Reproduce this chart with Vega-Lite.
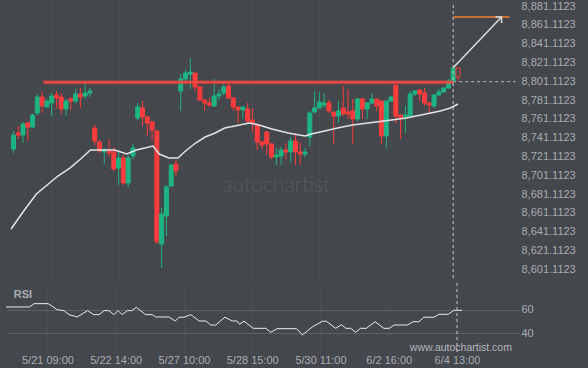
{
  "$schema": "https://vega.github.io/schema/vega-lite/v6.json",
  "background": "#44474c",
  "padding": {"left": 4, "top": 0, "right": 15, "bottom": 6},
  "spacing": 0,
  "config": {
    "view": {"stroke": null},
    "font": "Liberation Sans",
    "axis": {"labelColor": "#a9adb2", "labelFontSize": 11, "labelFont": "Liberation Sans", "ticks": false, "domain": false, "title": null, "labelOverlap": false, "labelFlush": false, "labelBound": false}
  },
  "resolve": {"scale": {"x": "independent", "y": "independent"}},
  "datasets": {
    "candles": [
      {"i":0,"o":8729.0,"c":8743.9,"h":8748.2,"l":8724.8,"d":"up"},
      {"i":1,"o":8746.1,"c":8743.9,"h":8753.5,"l":8739.7,"d":"down"},
      {"i":2,"o":8743.9,"c":8755.6,"h":8757.8,"l":8735.4,"d":"up"},
      {"i":3,"o":8756.7,"c":8752.4,"h":8757.8,"l":8737.6,"d":"down"},
      {"i":4,"o":8752.4,"c":8765.2,"h":8766.3,"l":8751.4,"d":"up"},
      {"i":5,"o":8767.3,"c":8784.3,"h":8787.5,"l":8765.2,"d":"up"},
      {"i":6,"o":8784.3,"c":8774.8,"h":8790.7,"l":8767.3,"d":"down"},
      {"i":7,"o":8773.7,"c":8780.1,"h":8782.2,"l":8772.7,"d":"up"},
      {"i":8,"o":8778.0,"c":8785.4,"h":8788.6,"l":8764.1,"d":"up"},
      {"i":9,"o":8786.5,"c":8783.3,"h":8790.7,"l":8772.7,"d":"down"},
      {"i":10,"o":8784.3,"c":8771.6,"h":8788.6,"l":8766.3,"d":"down"},
      {"i":11,"o":8771.6,"c":8780.1,"h":8782.2,"l":8764.1,"d":"up"},
      {"i":12,"o":8782.2,"c":8780.1,"h":8784.3,"l":8770.5,"d":"down"},
      {"i":13,"o":8780.1,"c":8787.5,"h":8792.9,"l":8778.0,"d":"up"},
      {"i":14,"o":8787.5,"c":8784.3,"h":8793.9,"l":8772.7,"d":"down"},
      {"i":15,"o":8785.4,"c":8788.6,"h":8799.2,"l":8782.2,"d":"up"},
      {"i":16,"o":8788.6,"c":8790.7,"h":8793.9,"l":8784.3,"d":"up"},
      {"i":17,"o":8751.4,"c":8737.6,"h":8754.6,"l":8733.3,"d":"down"},
      {"i":18,"o":8736.5,"c":8726.9,"h":8738.6,"l":8724.8,"d":"down"},
      {"i":19,"o":8725.9,"c":8728.0,"h":8730.1,"l":8713.1,"d":"up"},
      {"i":20,"o":8726.9,"c":8724.8,"h":8739.7,"l":8720.5,"d":"down"},
      {"i":21,"o":8725.9,"c":8707.8,"h":8731.2,"l":8705.7,"d":"down"},
      {"i":22,"o":8708.8,"c":8719.5,"h":8726.9,"l":8690.8,"d":"up"},
      {"i":23,"o":8719.5,"c":8692.9,"h":8722.7,"l":8690.8,"d":"down"},
      {"i":24,"o":8692.9,"c":8719.5,"h":8722.7,"l":8688.6,"d":"up"},
      {"i":25,"o":8721.6,"c":8730.1,"h":8734.4,"l":8718.4,"d":"up"},
      {"i":26,"o":8762.0,"c":8773.7,"h":8778.0,"l":8759.9,"d":"up"},
      {"i":27,"o":8772.7,"c":8763.1,"h":8780.1,"l":8753.5,"d":"down"},
      {"i":28,"o":8763.1,"c":8756.7,"h":8764.1,"l":8742.9,"d":"down"},
      {"i":29,"o":8757.8,"c":8749.3,"h":8758.8,"l":8737.6,"d":"down"},
      {"i":30,"o":8748.2,"c":8630.2,"h":8749.3,"l":8628.0,"d":"down"},
      {"i":31,"o":8628.0,"c":8659.9,"h":8666.3,"l":8602.5,"d":"up"},
      {"i":32,"o":8657.8,"c":8688.6,"h":8690.8,"l":8636.5,"d":"up"},
      {"i":33,"o":8689.7,"c":8712.0,"h":8713.1,"l":8688.6,"d":"up"},
      {"i":34,"o":8713.1,"c":8705.7,"h":8717.4,"l":8700.3,"d":"down"},
      {"i":35,"o":8790.7,"c":8803.5,"h":8808.8,"l":8769.5,"d":"up"},
      {"i":36,"o":8803.5,"c":8809.9,"h":8813.1,"l":8799.2,"d":"up"},
      {"i":37,"o":8808.8,"c":8810.9,"h":8825.8,"l":8792.9,"d":"up"},
      {"i":38,"o":8809.9,"c":8795.0,"h":8809.9,"l":8790.7,"d":"down"},
      {"i":39,"o":8795.0,"c":8781.2,"h":8796.0,"l":8780.1,"d":"down"},
      {"i":40,"o":8781.2,"c":8778.0,"h":8782.2,"l":8769.5,"d":"down"},
      {"i":41,"o":8778.0,"c":8775.8,"h":8783.3,"l":8773.7,"d":"down"},
      {"i":42,"o":8774.8,"c":8785.4,"h":8803.5,"l":8773.7,"d":"up"},
      {"i":43,"o":8785.4,"c":8787.5,"h":8792.9,"l":8781.2,"d":"up"},
      {"i":44,"o":8788.6,"c":8795.0,"h":8799.2,"l":8786.5,"d":"up"},
      {"i":45,"o":8796.0,"c":8783.3,"h":8801.4,"l":8783.3,"d":"down"},
      {"i":46,"o":8783.3,"c":8773.7,"h":8784.3,"l":8769.5,"d":"down"},
      {"i":47,"o":8773.7,"c":8770.5,"h":8773.7,"l":8756.7,"d":"down"},
      {"i":48,"o":8770.5,"c":8773.7,"h":8773.7,"l":8761.0,"d":"up"},
      {"i":49,"o":8771.6,"c":8758.8,"h":8778.0,"l":8756.7,"d":"down"},
      {"i":50,"o":8759.9,"c":8756.7,"h":8772.7,"l":8747.1,"d":"down"},
      {"i":51,"o":8754.6,"c":8736.5,"h":8756.7,"l":8728.0,"d":"down"},
      {"i":52,"o":8736.5,"c":8733.3,"h":8737.6,"l":8729.0,"d":"down"},
      {"i":53,"o":8747.1,"c":8734.4,"h":8748.2,"l":8722.7,"d":"down"},
      {"i":54,"o":8734.4,"c":8720.5,"h":8735.4,"l":8718.4,"d":"down"},
      {"i":55,"o":8720.5,"c":8722.7,"h":8730.1,"l":8712.0,"d":"up"},
      {"i":56,"o":8721.6,"c":8728.0,"h":8731.2,"l":8712.0,"d":"up"},
      {"i":57,"o":8728.0,"c":8725.9,"h":8735.4,"l":8718.4,"d":"down"},
      {"i":58,"o":8725.9,"c":8737.6,"h":8741.8,"l":8715.2,"d":"up"},
      {"i":59,"o":8737.6,"c":8725.9,"h":8745.0,"l":8712.0,"d":"down"},
      {"i":60,"o":8725.9,"c":8723.7,"h":8736.5,"l":8712.0,"d":"down"},
      {"i":61,"o":8723.7,"c":8725.9,"h":8730.1,"l":8720.5,"d":"up"},
      {"i":62,"o":8741.8,"c":8767.3,"h":8769.5,"l":8732.2,"d":"up"},
      {"i":63,"o":8768.4,"c":8772.7,"h":8790.7,"l":8767.3,"d":"up"},
      {"i":64,"o":8772.7,"c":8779.0,"h":8789.7,"l":8771.6,"d":"up"},
      {"i":65,"o":8775.8,"c":8778.0,"h":8788.6,"l":8772.7,"d":"up"},
      {"i":66,"o":8778.0,"c":8769.5,"h":8781.2,"l":8767.3,"d":"down"},
      {"i":67,"o":8768.4,"c":8764.1,"h":8768.4,"l":8734.4,"d":"down"},
      {"i":68,"o":8764.1,"c":8769.5,"h":8780.1,"l":8756.7,"d":"up"},
      {"i":69,"o":8772.7,"c":8766.3,"h":8796.0,"l":8764.1,"d":"down"},
      {"i":70,"o":8768.4,"c":8766.3,"h":8792.9,"l":8761.0,"d":"down"},
      {"i":71,"o":8769.5,"c":8761.0,"h":8782.2,"l":8734.4,"d":"down"},
      {"i":72,"o":8761.0,"c":8782.2,"h":8783.3,"l":8758.8,"d":"up"},
      {"i":73,"o":8782.2,"c":8771.6,"h":8783.3,"l":8761.0,"d":"down"},
      {"i":74,"o":8771.6,"c":8778.0,"h":8779.0,"l":8761.0,"d":"up"},
      {"i":75,"o":8778.0,"c":8782.2,"h":8788.6,"l":8776.9,"d":"up"},
      {"i":76,"o":8782.2,"c":8774.8,"h":8782.2,"l":8769.5,"d":"down"},
      {"i":77,"o":8780.1,"c":8742.9,"h":8780.1,"l":8734.4,"d":"down"},
      {"i":78,"o":8742.9,"c":8780.1,"h":8780.1,"l":8730.1,"d":"up"},
      {"i":79,"o":8780.1,"c":8784.3,"h":8785.4,"l":8779.0,"d":"up"},
      {"i":80,"o":8797.1,"c":8764.1,"h":8797.1,"l":8756.7,"d":"down"},
      {"i":81,"o":8765.2,"c":8762.0,"h":8765.2,"l":8739.7,"d":"down"},
      {"i":82,"o":8763.1,"c":8765.2,"h":8774.8,"l":8746.1,"d":"up"},
      {"i":83,"o":8764.1,"c":8787.5,"h":8790.7,"l":8762.0,"d":"up"},
      {"i":84,"o":8787.5,"c":8790.7,"h":8791.8,"l":8785.4,"d":"up"},
      {"i":85,"o":8791.8,"c":8787.5,"h":8792.9,"l":8780.1,"d":"down"},
      {"i":86,"o":8788.6,"c":8778.0,"h":8793.9,"l":8774.8,"d":"down"},
      {"i":87,"o":8778.0,"c":8775.8,"h":8779.0,"l":8767.3,"d":"down"},
      {"i":88,"o":8774.8,"c":8786.5,"h":8787.5,"l":8772.7,"d":"up"},
      {"i":89,"o":8786.5,"c":8789.7,"h":8792.9,"l":8785.4,"d":"up"},
      {"i":90,"o":8789.7,"c":8793.9,"h":8795.0,"l":8788.6,"d":"up"},
      {"i":91,"o":8793.9,"c":8801.4,"h":8803.5,"l":8792.9,"d":"up"},
      {"i":92,"o":8801.4,"c":8815.2,"h":8816.2,"l":8800.3,"d":"up"},
      {"i":93,"o":8815.2,"c":8805.6,"h":8815.2,"l":8801.4,"d":"hollow"}
    ],
    "ma": [
      {"i":-0.5,"m":8644.0},{"i":2.15,"m":8663.1},{"i":4.8,"m":8681.2},{"i":7.3,"m":8691.8},
      {"i":9.3,"m":8700.3},{"i":11.8,"m":8708.8},{"i":14.05,"m":8718.4},{"i":16.1,"m":8728.0},
      {"i":21.2,"m":8728.0},{"i":23.7,"m":8723.7},{"i":25.7,"m":8728.0},{"i":29.2,"m":8732.2},
      {"i":30.5,"m":8723.7},{"i":32.5,"m":8719.5},{"i":34.4,"m":8719.5},{"i":36.0,"m":8726.9},
      {"i":38.1,"m":8735.4},{"i":40.1,"m":8741.8},{"i":42.2,"m":8746.1},{"i":44.2,"m":8751.4},
      {"i":46.3,"m":8753.5},{"i":49.3,"m":8756.7},{"i":51.4,"m":8754.6},{"i":54.05,"m":8750.3},
      {"i":57.5,"m":8746.1},{"i":61.0,"m":8742.9},{"i":62.3,"m":8745.0},{"i":65.1,"m":8748.2},
      {"i":67.8,"m":8751.4},{"i":70.9,"m":8754.6},{"i":79.1,"m":8759.9},{"i":82.2,"m":8762.0},
      {"i":87.3,"m":8767.3},{"i":89.3,"m":8769.5},{"i":91.4,"m":8772.7},{"i":93.0,"m":8776.9}
    ],
    "rsi": [
      {"i":-0.5,"r":62.3},{"i":4.35,"r":62.3},{"i":5.23,"r":65.1},{"i":8.16,"r":65.1},
      {"i":10.0,"r":60.0},{"i":11.4,"r":59.2},{"i":12.4,"r":55.8},{"i":14.1,"r":53.8},
      {"i":16.2,"r":59.2},{"i":17.5,"r":55.8},{"i":18.6,"r":55.8},{"i":19.6,"r":59.2},
      {"i":20.6,"r":59.2},{"i":21.6,"r":55.8},{"i":22.5,"r":59.2},{"i":23.3,"r":55.8},
      {"i":24.4,"r":59.2},{"i":25.3,"r":59.2},{"i":26.2,"r":62.0},{"i":28.1,"r":55.8},
      {"i":29.5,"r":55.8},{"i":30.2,"r":53.8},{"i":32.9,"r":53.8},{"i":34.2,"r":50.4},
      {"i":35.0,"r":53.6},{"i":36.0,"r":53.6},{"i":37.4,"r":55.8},{"i":39.1,"r":50.4},
      {"i":40.5,"r":50.4},{"i":41.5,"r":47.0},{"i":42.5,"r":47.0},{"i":44.4,"r":53.6},
      {"i":45.9,"r":50.4},{"i":46.9,"r":50.4},{"i":47.4,"r":47.6},{"i":48.3,"r":50.2},
      {"i":50.2,"r":44.2},{"i":52.8,"r":44.2},{"i":53.8,"r":40.8},{"i":55.1,"r":43.9},
      {"i":59.1,"r":43.9},{"i":60.3,"r":38.6},{"i":62.3,"r":45.3},{"i":64.4,"r":50.2},
      {"i":65.2,"r":50.2},{"i":67.1,"r":44.2},{"i":68.3,"r":47.3},{"i":69.2,"r":44.2},
      {"i":70.2,"r":44.2},{"i":71.2,"r":40.8},{"i":72.2,"r":44.2},{"i":73.4,"r":44.2},
      {"i":75.2,"r":49.8},{"i":77.0,"r":44.2},{"i":78.1,"r":44.2},{"i":79.1,"r":47.0},
      {"i":81.8,"r":47.0},{"i":83.0,"r":49.8},{"i":84.2,"r":49.8},{"i":85.2,"r":53.6},
      {"i":87.3,"r":53.6},{"i":88.3,"r":56.1},{"i":90.2,"r":56.1},{"i":91.4,"r":59.5},
      {"i":93.0,"r":59.5}
    ]
  },
  "vconcat": [
    {
      "width": 513,
      "height": 280,
      "layer": [
        {
          "data": {"name": "candles"},
          "mark": {"type": "rule", "strokeWidth": 1},
          "encoding": {
            "x": {"field": "i", "type": "quantitative",
                  "scale": {"domain": [-0.513, 104.72], "nice": false, "zero": false},
                  "axis": {"values": [8, 22, 36, 50, 64, 78, 92], "tickCount": 20, "labels": false, "labelPadding": 0, "offset": 0, "minExtent": 0, "maxExtent": 0, "grid": true, "gridColor": "#4a4d52"}},
            "y": {"field": "l", "type": "quantitative",
                  "scale": {"domain": [8588.68, 8886.43], "nice": false, "zero": false},
                  "axis": {"orient": "right", "grid": false, "labelPadding": 2, "format": ",.4f", "tickCount": 30, "labelOverlap": false, "labelFlush": false, "labelBound": false,
                           "values": [8601.1123, 8621.1123, 8641.1123, 8661.1123, 8681.1123, 8701.1123, 8721.1123, 8741.1123, 8761.1123, 8781.1123, 8801.1123, 8821.1123, 8841.1123, 8861.1123, 8881.1123]}},
            "y2": {"field": "h"},
            "stroke": {"field": "d", "type": "nominal", "legend": null,
                       "scale": {"domain": ["up", "down", "hollow"], "range": ["#1db482", "#fb3c3c", "#fb3c3c"]}}
          }
        },
        {
          "data": {"name": "candles"},
          "mark": {"type": "bar", "width": 4, "strokeWidth": 1},
          "encoding": {
            "x": {"field": "i", "type": "quantitative"},
            "y": {"field": "o", "type": "quantitative"},
            "y2": {"field": "c"},
            "fill": {"field": "d", "type": "nominal", "legend": null,
                     "scale": {"domain": ["up", "down", "hollow"], "range": ["#1db482", "#fb3c3c", "#44474c"]}},
            "stroke": {"field": "d", "type": "nominal", "legend": null}
          }
        },
        {
          "data": {"name": "ma"},
          "mark": {"type": "line", "color": "#e4e4e4", "strokeWidth": 1.5},
          "encoding": {
            "x": {"field": "i", "type": "quantitative"},
            "y": {"field": "m", "type": "quantitative"}
          }
        },
        {
          "data": {"values": [{"i1": 6.26, "i2": 92, "v": 8800.1}]},
          "mark": {"type": "rule", "color": "#e0443f", "strokeWidth": 4, "opacity": 0.5},
          "encoding": {
            "x": {"field": "i1", "type": "quantitative"},
            "x2": {"field": "i2"},
            "y": {"field": "v", "type": "quantitative"}
          }
        },
        {
          "data": {"values": [{"i1": 6.26, "i2": 92, "v": 8800.1}]},
          "mark": {"type": "rule", "color": "#f04a45", "strokeWidth": 2},
          "encoding": {
            "x": {"field": "i1", "type": "quantitative"},
            "x2": {"field": "i2"},
            "y": {"field": "v", "type": "quantitative"}
          }
        },
        {
          "data": {"values": [{"i1": 92, "i2": 103.8, "v": 8869.4}]},
          "mark": {"type": "rule", "color": "#f07f30", "strokeWidth": 1.5},
          "encoding": {
            "x": {"field": "i1", "type": "quantitative"},
            "x2": {"field": "i2"},
            "y": {"field": "v", "type": "quantitative"}
          }
        },
        {
          "data": {"values": [{"i1": 92, "i2": 102.1, "v1": 8815.5, "v2": 8869.4}]},
          "mark": {"type": "rule", "color": "#dedede", "strokeWidth": 1.5},
          "encoding": {
            "x": {"field": "i1", "type": "quantitative"},
            "x2": {"field": "i2"},
            "y": {"field": "v1", "type": "quantitative"},
            "y2": {"field": "v2"}
          }
        },
        {
          "data": {"values": [{"i": 102.1, "v": 8869.4}]},
          "mark": {"type": "point", "shape": "M-1,1L0,0L1,1", "filled": false, "color": "#dedede", "strokeWidth": 1.5, "size": 72, "angle": 44, "opacity": 1},
          "encoding": {
            "x": {"field": "i", "type": "quantitative"},
            "y": {"field": "v", "type": "quantitative"}
          }
        },
        {
          "data": {"values": [{"i": 92, "v1": 8882.2, "v2": 8588.68}]},
          "mark": {"type": "rule", "color": "#c8c8c8", "strokeWidth": 1, "strokeDash": [3, 3]},
          "encoding": {
            "x": {"field": "i", "type": "quantitative"},
            "y": {"field": "v1", "type": "quantitative"},
            "y2": {"field": "v2"}
          }
        },
        {
          "data": {"values": [{"i1": 92, "i2": 105.1, "v": 8800.6}]},
          "mark": {"type": "rule", "color": "#bdbdbd", "strokeWidth": 1, "strokeDash": [3, 3], "clip": false},
          "encoding": {
            "x": {"field": "i1", "type": "quantitative"},
            "x2": {"field": "i2"},
            "y": {"field": "v", "type": "quantitative"}
          }
        },
        {
          "data": {"values": [{"i": 55.0, "v": 8689.7, "t": "autochartist"}]},
          "mark": {"type": "text", "font": "Lato", "fontWeight": 300, "fontSize": 21, "letterSpacing": 3.6, "color": "#56595e", "align": "center", "baseline": "middle"},
          "encoding": {
            "x": {"field": "i", "type": "quantitative"},
            "y": {"field": "v", "type": "quantitative"},
            "text": {"field": "t"}
          }
        }
      ]
    },
    {
      "width": 513,
      "height": 70,
      "layer": [
        {
          "data": {"name": "rsi"},
          "mark": {"type": "line", "color": "#ececec", "strokeWidth": 1},
          "encoding": {
            "x": {"field": "i", "type": "quantitative",
                  "scale": {"domain": [-0.513, 104.72], "nice": false, "zero": false},
                  "axis": {"values": [8, 22, 36, 50, 64, 78, 92], "tickCount": 20, "grid": true, "gridColor": "#4a4d52", "labelPadding": 1,
                           "labelExpr": "datum.value == 8 ? '5/21 09:00' : datum.value == 22 ? '5/22 14:00' : datum.value == 36 ? '5/27 10:00' : datum.value == 50 ? '5/28 15:00' : datum.value == 64 ? '5/30 11:00' : datum.value == 78 ? '6/2 16:00' : '6/4 13:00'"}},
            "y": {"field": "r", "type": "quantitative",
                  "scale": {"domain": [23.3, 82.6], "nice": false, "zero": false},
                  "axis": {"orient": "right", "values": [40, 60], "tickCount": 10, "grid": true, "gridColor": "#5d6065", "labelPadding": 2, "labelOverlap": false}}
          }
        },
        {
          "data": {"values": [{"i": 92}]},
          "mark": {"type": "rule", "color": "#c8c8c8", "strokeWidth": 1, "strokeDash": [3, 3]},
          "encoding": {
            "x": {"field": "i", "type": "quantitative"}
          }
        },
        {
          "data": {"values": [{"i": 1.07, "r": 72.7, "t": "RSI"}]},
          "mark": {"type": "text", "font": "Liberation Sans", "fontSize": 11, "fontWeight": "bold", "color": "#a9adb2", "align": "left", "baseline": "middle"},
          "encoding": {
            "x": {"field": "i", "type": "quantitative"},
            "y": {"field": "r", "type": "quantitative"},
            "text": {"field": "t"}
          }
        },
        {
          "data": {"values": [{"i": 92.8, "r": 27.5, "t": "www.autochartist.com"}]},
          "mark": {"type": "text", "font": "Liberation Sans", "fontSize": 10.5, "letterSpacing": 0.2, "color": "#b4b7bb", "align": "center", "baseline": "middle"},
          "encoding": {
            "x": {"field": "i", "type": "quantitative"},
            "y": {"field": "r", "type": "quantitative"},
            "text": {"field": "t"}
          }
        }
      ]
    }
  ]
}
